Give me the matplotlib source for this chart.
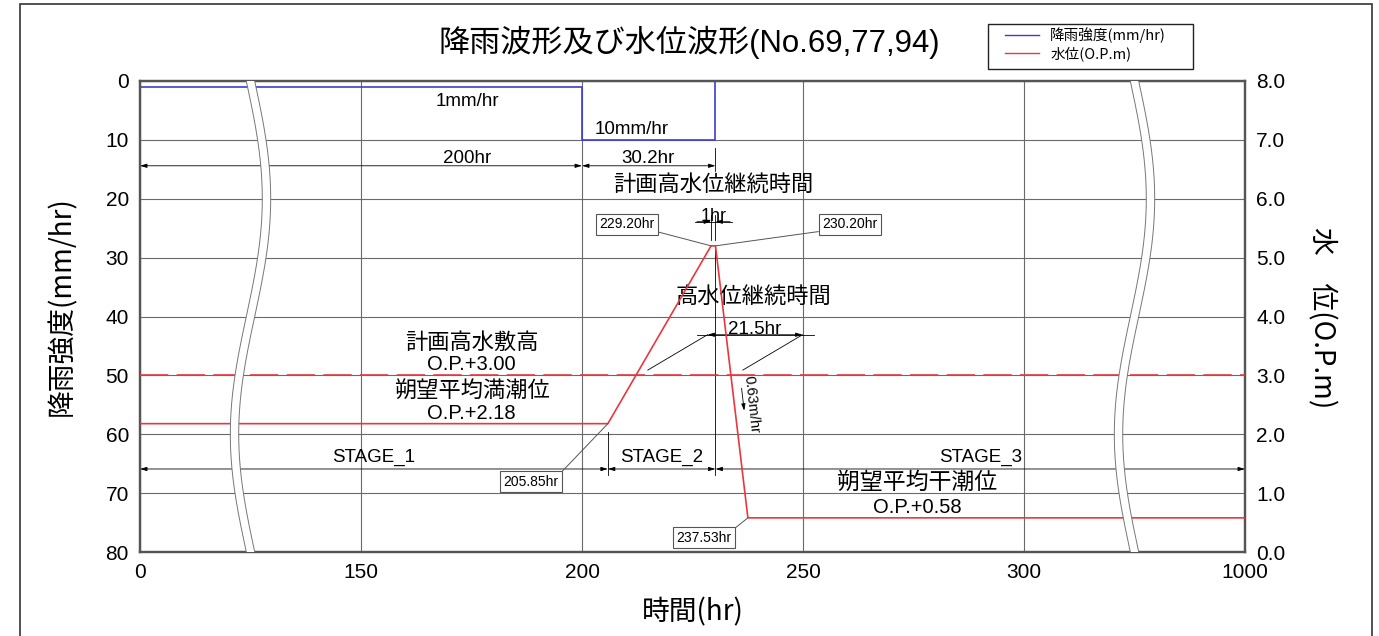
import numpy as np
import matplotlib
matplotlib.use('Agg')
import matplotlib.pyplot as plt
from matplotlib.patches import Rectangle, Polygon

plt.rcParams['font.family'] = ['Liberation Sans', 'Noto Sans CJK JP']
CJK = ['Noto Sans CJK JP', 'DejaVu Sans']

# rainfall (mm/hr), held until the next time
rain_hours = [0, 200, 230.2, 1000]
rain_mm = [1, 10, 0, 0]

# water level (O.P.m)
level_hours = [0, 205.85, 229.20, 230.20, 237.53, 1000]
level_m = [2.18, 2.18, 5.20, 5.20, 0.58, 0.58]

hwl_m = 3.00      # 計画高水敷高
hhwl_m = 2.18     # 朔望平均満潮位
lwl_m = 0.58      # 朔望平均干潮位
fall_rate = 0.63  # m/hr

x_ticks = [0, 150, 200, 250, 300, 1000]
rain_ticks = np.arange(0, 81, 10)
level_ticks = np.arange(0, 8.01, 1.0)
break_hours = [75, 650]

stage_names = ['STAGE_1', 'STAGE_2', 'STAGE_3']
stage_edges = [0, 205.85, 230.2, 1000]

BLUE = '#3c3cd6'
RED = '#e8383f'
GRID = '#6a6a6a'

# piecewise time axis: 0-150 and 300-1000 squeezed, 150-300 stretched
seg_hours = [0, 150, 300, 1000]
seg_pos = [0, 1, 4, 5]


def fwd(t):
    return np.interp(t, seg_hours, seg_pos)


def inv(u):
    return np.interp(u, seg_pos, seg_hours)


def umid(a, b):
    return float(inv((fwd(a) + fwd(b)) / 2))


fig = plt.figure(figsize=(13.79, 6.36), dpi=100)
ax = fig.add_axes([140 / 1379, 1 - 552 / 636, 1105 / 1379, 471 / 636])
ax.set_xscale('function', functions=(fwd, inv))
ax2 = ax.twinx()

ax.set_xlim(0, 1000)
ax.set_ylim(80, 0)
ax2.set_ylim(0, 8)
ax.set_xticks(x_ticks)
ax.set_xticklabels([str(t) for t in x_ticks])
ax.set_yticks(rain_ticks)
ax2.set_yticks(level_ticks)
ax2.set_yticklabels([f'{v:.1f}' for v in level_ticks])
ax.tick_params(axis='both', length=0, labelsize=15, pad=8)
ax2.tick_params(axis='y', length=0, labelsize=15, pad=8)
ax.grid(True, color=GRID, lw=0.8)
for a in (ax, ax2):
    for s in a.spines.values():
        s.set_color('#555555')
        s.set_linewidth(1.6)

# series
ax.step(rain_hours, rain_mm, where='post', color=BLUE, lw=1.2, zorder=4, clip_on=False)
ax2.plot(level_hours, level_m, color=RED, lw=1.2, zorder=4)
ax2.axhline(hwl_m, color=RED, lw=1.2, ls=(0, (17, 5)), zorder=4)

ARW = dict(arrowstyle='<|-|>,head_length=0.5,head_width=0.15', color='k', lw=0.6,
           shrinkA=0, shrinkB=0, mutation_scale=8)
ONE = dict(arrowstyle='-|>,head_length=0.5,head_width=0.15', color='k', lw=0.6,
           shrinkA=0, shrinkB=0, mutation_scale=8)


def dim(axis, x0, x1, y, style=ARW):
    axis.annotate('', xy=(x1, y), xytext=(x0, y), arrowprops=style)


def tag(x, y, tx, ty, relpos):
    ax2.annotate(f'{x:.2f}hr', xy=(x, y), xytext=(tx, ty), fontsize=10,
                 ha='center', va='center', zorder=6,
                 bbox=dict(boxstyle='square,pad=0.25', fc='white', ec='#555555', lw=0.8),
                 arrowprops=dict(arrowstyle='-', color='#555555', lw=0.7,
                                 shrinkA=0, shrinkB=0, relpos=relpos))


# rainfall labels and durations
ax.text(174, 3.4, f'{rain_mm[0]:g}mm/hr', fontsize=13.5, ha='center', va='center')
ax.text(211.3, 8.3, f'{rain_mm[1]:g}mm/hr', fontsize=13.5, ha='center', va='center')
dim(ax, rain_hours[0], rain_hours[1], 14.4)
dim(ax, rain_hours[1], rain_hours[2], 14.4)
ax.plot([rain_hours[2]] * 2, [11.4, 15.3], color='k', lw=0.6)
ax.text(174, 14.0, f'{round(rain_hours[1] - rain_hours[0], 1):g}hr', fontsize=13.5,
        ha='center', va='baseline')
ax.text(215, 14.0, f'{round(rain_hours[2] - rain_hours[1], 1):g}hr', fontsize=13.5,
        ha='center', va='baseline')

# planned high water duration at the peak
t_pk0, t_pk1 = level_hours[2], level_hours[3]
peak = level_m[2]
t_pk = (t_pk0 + t_pk1) / 2
ax.text(t_pk, 17.7, '計画高水位継続時間', fontsize=16, ha='center', va='center')
ax2.plot([t_pk0, t_pk0], [5.30, 5.73], color='k', lw=0.6)
ax2.plot([t_pk1, t_pk1], [5.30, 5.73], color='k', lw=0.6)
ax2.plot([225.6, 233.9], [5.61, 5.61], color='k', lw=0.6)
dim(ax2, 226.0, t_pk0, 5.61, ONE)
dim(ax2, 233.5, t_pk1, 5.61, ONE)
ax2.text(t_pk, 5.62, f'{round(t_pk1 - t_pk0, 1):g}hr', fontsize=13, ha='center', va='baseline')
tag(t_pk0, peak, 210.2, 5.57, (1, 0))
tag(t_pk1, peak, 260.6, 5.57, (0, 0))
ax2.plot([t_pk1, t_pk1], [peak, 1.31], color='k', lw=0.6)

# high water duration above the flood-plain level
t_up = float(np.interp(hwl_m, [level_m[1], level_m[2]], [level_hours[1], level_hours[2]]))
t_dn = float(np.interp(hwl_m, [level_m[4], level_m[3]], [level_hours[4], level_hours[3]]))
off = 16.2
ax2.plot([t_up + 2.7, t_up + off], [3.09, 3.69], color='k', lw=0.6)
ax2.plot([t_dn + 2.7, t_dn + off], [3.09, 3.69], color='k', lw=0.6)
ax2.plot([t_up + off - 2.3, t_dn + off + 2.7], [3.69, 3.69], color='k', lw=0.6)
dim(ax2, t_up + off, t_dn + off, 3.69)
ax2.text(t_up + off + (t_dn - t_up) / 2, 3.71, f'{round(t_dn - t_up, 1):g}hr', fontsize=13.5,
         ha='center', va='baseline')
ax2.text(238.7, 4.32, '高水位継続時間', fontsize=16, ha='center', va='center')

# falling rate
ax2.text(238.4, 2.50, f'{fall_rate:.2f}m/hr', fontsize=10.5, rotation=-84,
         ha='center', va='center', rotation_mode='anchor')
ax2.annotate('', xy=(236.7, 2.40), xytext=(236.1, 2.78), arrowprops=ONE)

# reference levels
ax2.text(175, 3.55, '計画高水敷高', fontsize=16, ha='center', va='center')
ax2.text(175, 3.18, f'O.P.+{hwl_m:.2f}', fontsize=14.5, ha='center', va='center')
ax2.text(175, 2.72, '朔望平均満潮位', fontsize=16, ha='center', va='center')
ax2.text(175, 2.36, f'O.P.+{hhwl_m:.2f}', fontsize=14.5, ha='center', va='center')
ax2.text(275.8, 1.175, '朔望平均干潮位', fontsize=16.5, ha='center', va='center')
ax2.text(275.8, 0.75, f'O.P.+{lwl_m:.2f}', fontsize=14.5, ha='center', va='center')

# stages
stage_y = 1.41
for name, a, b in zip(stage_names, stage_edges[:-1], stage_edges[1:]):
    dim(ax2, a, b, stage_y)
    ax2.text(umid(a, b), 1.54, name, fontsize=13.5, ha='center', va='baseline')
ax2.plot([stage_edges[1]] * 2, [2.04, 1.31], color='k', lw=0.6)
tag(level_hours[1], level_m[1], 188.5, 1.19, (1, 1))
tag(level_hours[4], level_m[4], 227.6, 0.24, (1, 1))

# axis break marks
yy = np.linspace(0, 1, 200)
amp, half = 16 / 1105, 4.2 / 1105
for bh in break_hours:
    cx = float(fwd(bh)) / 5 + amp * np.sin(2 * np.pi * (1 - yy))
    poly = np.column_stack([np.r_[cx - half, (cx + half)[::-1]], np.r_[yy, yy[::-1]]])
    ax2.add_patch(Polygon(poly, closed=True, transform=ax2.transAxes, fc='white',
                          ec='none', zorder=8, clip_on=False))
    ax2.plot(cx - half, yy, transform=ax2.transAxes, color='#777777', lw=0.7, zorder=9)
    ax2.plot(cx + half, yy, transform=ax2.transAxes, color='#777777', lw=0.7, zorder=9)

# titles and labels
fig.text(689 / 1379, 1 - 42 / 636, '降雨波形及び水位波形(No.69,77,94)', fontsize=22.4,
         ha='center', va='center')
fig.text(62 / 1379, 1 - 306 / 636, '降雨強度(mm/hr)', fontsize=20, rotation=90,
         ha='center', va='center', family=CJK)
fig.text(1322 / 1379, 1 - 318 / 636, '水　位(O.P.m)', fontsize=20, rotation=270,
         ha='center', va='center', family=CJK)
fig.text(693 / 1379, 1 - 612 / 636, '時間(hr)', fontsize=20, ha='center', va='center',
         family=CJK)

# legend, with its own frame
h1, = ax.plot([], [], color=BLUE, lw=1.0, label='降雨強度(mm/hr)')
h2, = ax.plot([], [], color=RED, lw=1.0, label='水位(O.P.m)')
fig.legend(handles=[h1, h2], loc='upper left', prop={'family': CJK, 'size': 10.5},
           bbox_to_anchor=(1005 / 1379, 1 - 27 / 636), borderaxespad=0, borderpad=0,
           frameon=False, handlelength=2.3, handletextpad=0.8, labelspacing=0.22)
fig.patches.append(Rectangle((988 / 1379, 1 - 69 / 636), 205 / 1379, 45 / 636,
                             transform=fig.transFigure, fill=False, ec='#222222', lw=1.0))

fig.patches.append(Rectangle((20 / 1379, -0.02), 1352 / 1379, 1.02 - 4 / 636,
                             transform=fig.transFigure, fill=False, ec='#333333', lw=1.2))

fig.savefig('out.png', dpi=100)
